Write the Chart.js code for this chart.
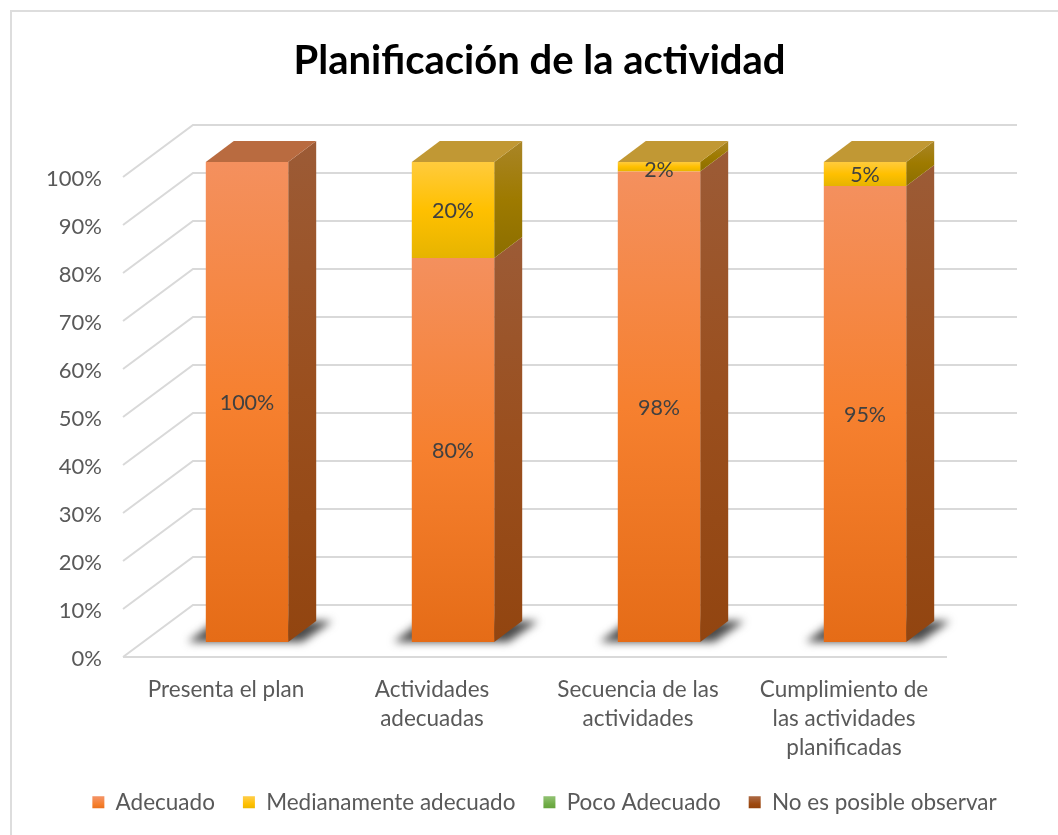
<!DOCTYPE html>
<html>
<head>
<meta charset="utf-8">
<style>
  html, body { margin: 0; padding: 0; background: #fff; }
  canvas { display: block; }
</style>
<script src="https://cdn.jsdelivr.net/npm/chart.js@4/dist/chart.umd.min.js"></script>
</head>
<body>
<canvas id="myChart" width="1058" height="835"></canvas>
<script>
// Data
const categories = [
  "Presenta el plan",
  ["Actividades", "adecuadas"],
  ["Secuencia de las", "actividades"],
  ["Cumplimiento de", "las actividades", "planificadas"],
];
const adecuado = [100, 80, 98, 95];
const medianamente = [0, 20, 2, 5];
const pocoAdecuado = [0, 0, 0, 0];
const noObservar = [0, 0, 0, 0];

// Look of each series: front gradient, side gradient, top face
const looks = {
  Adecuado: { front: ["#F4905E", "#F6802F", "#E56C17"], side: ["#9C5B36", "#9A4F1E", "#924510"], top: "#B96B40" },
  "Medianamente adecuado": { front: ["#FFCB3D", "#FFC000", "#E6B400"], side: ["#A98527", "#9E7A00", "#8C6E00"], top: "#C19834" },
  "Poco Adecuado": { front: ["#8CBE6C", "#70AD47", "#62A03A"], side: ["#557F3A", "#4A7A2E", "#3F6B26"], top: "#6F9A55" },
  "No es posible observar": { front: ["#A9643C", "#9E480E", "#8E3F0A"], side: ["#6A3A1E", "#5F2B08", "#552606"], top: "#7A4A2C" },
};

// Bars stand part way into the floor, the walls go further back
const barShift = { x: 21, y: -15 };
const barDepth = { x: 28, y: -21 };
const wallDepth = { x: 70, y: -52 };
const gridColor = "#D9D9D9";
const textColor = "#595959";
const fontName = "Lato, Carlito, 'Open Sans', sans-serif";

function vGradient(c, y0, y1, stops) {
  const g = c.createLinearGradient(0, y0, 0, y1);
  g.addColorStop(0, stops[0]);
  g.addColorStop(0.5, stops[1]);
  g.addColorStop(1, stops[2]);
  return g;
}

function poly(c, pts, fill) {
  c.beginPath();
  pts.forEach((p, i) => (i ? c.lineTo(p[0], p[1]) : c.moveTo(p[0], p[1])));
  c.closePath();
  c.fillStyle = fill;
  c.fill();
}

// Page background, frame and the grid on the walls
const wallsPlugin = {
  id: "walls",
  beforeDraw(chart) {
    const c = chart.ctx;
    c.save();
    c.fillStyle = "#fff";
    c.fillRect(0, 0, chart.width, chart.height);
    c.strokeStyle = "#DDDDDD";
    c.lineWidth = 2;
    c.strokeRect(11, 11, chart.width + 40, chart.height + 40);

    const y = chart.scales.y;
    const area = chart.chartArea;
    c.strokeStyle = gridColor;
    c.lineWidth = 2;
    y.ticks.forEach((t) => {
      const py = y.getPixelForValue(t.value);
      c.beginPath();
      c.moveTo(area.left, py);
      c.lineTo(area.left + wallDepth.x, py + wallDepth.y);
      c.lineTo(area.right + wallDepth.x, py + wallDepth.y);
      c.stroke();
    });
    c.beginPath();
    c.moveTo(area.left, area.bottom);
    c.lineTo(area.right, area.bottom);
    c.stroke();
    c.restore();
  },
};

// Floor shadow, side and top faces, then the bars get moved back with a translate
const boxPlugin = {
  id: "box3d",
  beforeDatasetsDraw(chart) {
    const c = chart.ctx;
    c.save();
    c.translate(barShift.x, barShift.y);

    const base = chart.getDatasetMeta(0).data;
    c.save();
    c.filter = "blur(4px)";
    base.forEach((bar) => {
      const l = bar.x - bar.width / 2;
      const r = bar.x + bar.width / 2;
      const b = bar.base;
      poly(c, [[l - 18, b], [l + 10, b - 21], [r + 44, b - 21], [r + 14, b]], "#4A4A4A");
    });
    c.restore();

    const count = chart.data.labels.length;
    for (let i = 0; i < count; i++) {
      let last = null;
      chart.data.datasets.forEach((ds, d) => {
        const bar = chart.getDatasetMeta(d).data[i];
        if (!ds.data[i]) return;
        const look = looks[ds.label];
        const r = bar.x + bar.width / 2;
        const grad = c.createLinearGradient(0, bar.y + barDepth.y, 0, bar.base);
        grad.addColorStop(0, look.side[0]);
        grad.addColorStop(0.5, look.side[1]);
        grad.addColorStop(1, look.side[2]);
        poly(c, [[r, bar.y], [r + barDepth.x, bar.y + barDepth.y], [r + barDepth.x, bar.base + barDepth.y], [r, bar.base]], grad);
        last = { bar, look };
      });
      if (last) {
        const { bar, look } = last;
        const l = bar.x - bar.width / 2;
        const r = bar.x + bar.width / 2;
        poly(c, [[l, bar.y], [l + barDepth.x, bar.y + barDepth.y], [r + barDepth.x, bar.y + barDepth.y], [r, bar.y]], look.top);
      }
    }
  },
  afterDatasetsDraw(chart) {
    const c = chart.ctx;
    c.font = "21.5px " + fontName;
    c.fillStyle = "#404040";
    c.textAlign = "center";
    c.textBaseline = "middle";
    chart.data.datasets.forEach((ds, d) => {
      chart.getDatasetMeta(d).data.forEach((bar, i) => {
        if (!ds.data[i]) return;
        const dy = ds.data[i] < 3 ? 3 : 1;
        c.fillText(ds.data[i] + "%", bar.x, (bar.y + bar.base) / 2 + dy);
      });
    });
    c.restore();
  },
};

// Title and legend are centred on the frame, not on the plot
const placePlugin = {
  id: "place",
  afterLayout(chart) {
    const shift = (box, dx, top) => {
      box.left += dx;
      box.right += dx;
      box.top = top;
    };
    shift(chart.titleBlock, 10.5, 37);
    shift(chart.legend, 15.5, 763);
  },
};

const series = [
  ["Adecuado", adecuado],
  ["Medianamente adecuado", medianamente],
  ["Poco Adecuado", pocoAdecuado],
  ["No es posible observar", noObservar],
];

const ctx = document.getElementById("myChart");

new Chart(ctx, {
  type: "bar",
  data: {
    labels: categories,
    datasets: series.map(([label, data]) => ({
      label,
      data,
      barPercentage: 0.4,
      categoryPercentage: 1,
      borderWidth: 0,
      backgroundColor(context) {
        const y = context.chart.scales.y;
        const v = context.dataset.data[context.dataIndex];
        if (y === undefined || !v) return looks[label].front[1];
        let start = 0;
        context.chart.data.datasets.forEach((ds, d) => {
          if (d < context.datasetIndex) start += ds.data[context.dataIndex];
        });
        return vGradient(
          context.chart.ctx,
          y.getPixelForValue(start + v),
          y.getPixelForValue(start),
          looks[label].front
        );
      },
    })),
  },
  plugins: [wallsPlugin, boxPlugin, placePlugin],
  options: {
    responsive: false,
    animation: false,
    plugins: {
      title: {
        display: true,
        text: "Planificación de la actividad",
        color: "#000",
        font: { family: fontName, size: 40, weight: "bold" },
        padding: { top: 0, bottom: 129 },
      },
      legend: {
        position: "bottom",
        labels: {
          boxWidth: 12,
          boxHeight: 12,
          padding: 28,
          color: textColor,
          font: { family: fontName, size: 22.5 },
          generateLabels(chart) {
            return chart.data.datasets.map((ds, i) => ({
              text: ds.label,
              fillStyle: vGradient(chart.ctx, 798, 810, looks[ds.label].front),
              strokeStyle: "transparent",
              fontColor: textColor,
              lineWidth: 0,
              datasetIndex: i,
            }));
          },
        },
      },
      tooltip: { enabled: false },
    },
    scales: {
      x: {
        stacked: true,
        grid: { display: false },
        border: { display: false },
        ticks: {
          color: textColor,
          font: { family: fontName, size: 22.5, lineHeight: 1.29 },
          padding: 10,
          maxRotation: 0,
          autoSkip: false,
        },
        afterFit(scale) {
          scale.height = 117.5;
        },
      },
      y: {
        stacked: true,
        min: 0,
        max: 100,
        grid: { display: false },
        border: { display: false },
        ticks: {
          stepSize: 10,
          color: textColor,
          font: { family: fontName, size: 22 },
          padding: 13,
          labelOffset: 2,
          callback: (v) => v + "%",
        },
        afterFit(scale) {
          scale.width = 123;
        },
      },
      // empty axis, only keeps the plot clear of the right hand side
      spacer: {
        type: "linear",
        position: "right",
        grid: { display: false },
        border: { display: false },
        ticks: { display: false },
        afterFit(scale) {
          scale.width = 111;
        },
      },
    },
  },
});
</script>
</body>
</html>
